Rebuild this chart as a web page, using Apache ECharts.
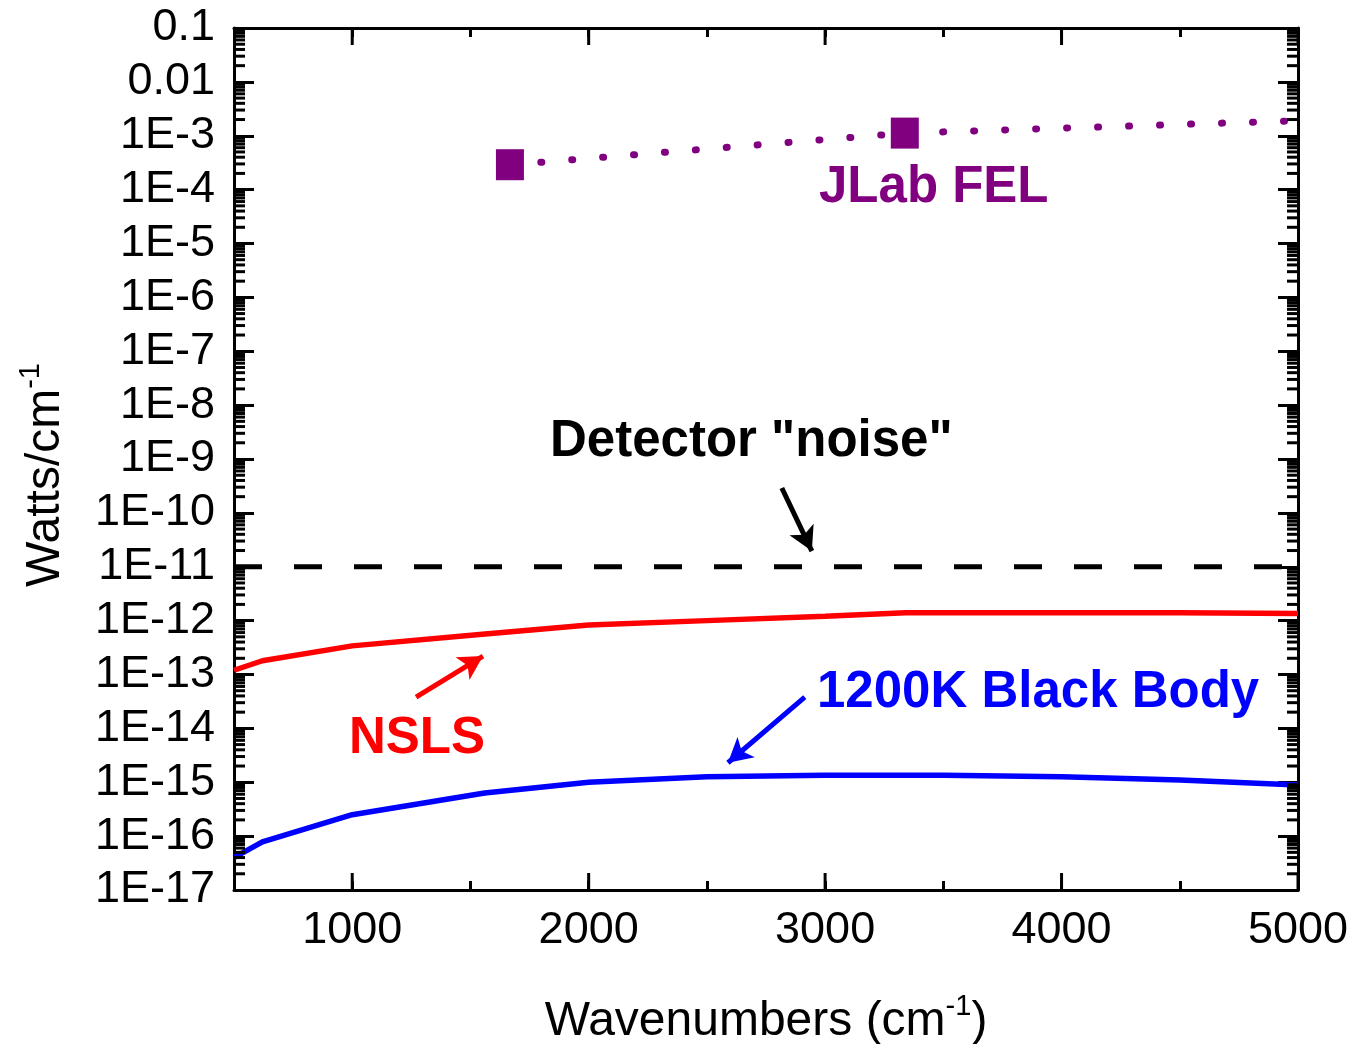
<!DOCTYPE html>
<html>
<head>
<meta charset="utf-8">
<script src="https://cdn.jsdelivr.net/npm/echarts@6/dist/echarts.min.js"></script>
<style>html,body{margin:0;padding:0;background:#fff}#c{width:1354px;height:1044px}</style>
</head>
<body>
<div id="c"></div>
<script>
// ---- data ----
const nslsX = [500, 620, 1000, 1550, 2000, 2500, 3000, 3340, 4000, 4500, 5000];
const nslsY = [1.2e-13, 1.8e-13, 3.4e-13, 5.6e-13, 8.3e-13, 1.0e-12, 1.2e-12, 1.4e-12, 1.4e-12, 1.4e-12, 1.35e-12];
const bbX = [500, 620, 1000, 1560, 2000, 2500, 3000, 3500, 4000, 4500, 5000];
const bbY = [4.0e-17, 7.8e-17, 2.5e-16, 6.3e-16, 1.0e-15, 1.26e-15, 1.35e-15, 1.35e-15, 1.26e-15, 1.1e-15, 8.9e-16];
const felX = [1667, 3337, 5000];
const felY = [2.9e-4, 1.12e-3, 1.9e-3];
const felMarked = [true, true, false];
const noiseX = [500, 5000];
const noiseY = [1e-11, 1e-11];
const yMin = 1e-17, yMax = 0.1;
const xMin = 500, xMax = 5000;
const xMajorTicks = [1000, 2000, 3000, 4000, 5000];
// arrows: [startX, startY, endX, endY]
const arrowNoise = [2817, 2.9e-10, 2944, 1.95e-11];
const arrowNsls = [1270, 3.8e-14, 1553, 2.2e-13];
const arrowBB = [2914, 3.8e-14, 2589, 2.3e-15];

// minor log tick positions (2..9 within each decade)
const yMinorTicks = [];
for (let e = -17; e < -1; e++) for (let m = 2; m <= 9; m++) yMinorTicks.push(m * Math.pow(10, e));

const FONT = 'Liberation Sans, Arial, sans-serif';
const zip = (a, b) => a.map((v, i) => [v, b[i]]);

function yLabel(v) {
  const e = Math.round(Math.log10(v));
  if (e >= -2) return v.toFixed(-e);
  return '1E' + e;
}

function arrow(a, color) {
  return {
    silent: true,
    symbol: ['none', 'arrow'],
    symbolSize: [20, 24],
    label: { show: false },
    lineStyle: { color: color, width: 5, type: 'solid' },
    data: [[{ coord: [a[0], a[1]] }, { coord: [a[2], a[3]] }]],
    animation: false
  };
}

const axisCommonX = {
  type: 'value', min: xMin, max: xMax, interval: 500,
  axisLine: { show: true, lineStyle: { color: '#000', width: 3 } },
  axisTick: { show: true, inside: true, length: 9, lineStyle: { color: '#000', width: 3 } },
  splitLine: { show: false }
};
const axisCommonY = {
  type: 'log', logBase: 10, min: yMin, max: yMax, interval: 1,
  axisLine: { show: true, lineStyle: { color: '#000', width: 3 } },
  axisTick: { show: true, inside: true, length: 20, lineStyle: { color: '#000', width: 3 } },
  splitLine: { show: false }
};

const chart = echarts.init(document.getElementById('c'), null, { renderer: 'canvas' });
chart.setOption({
  animation: false,
  backgroundColor: '#fff',
  grid: { left: 234, right: 56, top: 28, bottom: 154, containLabel: false, outerBoundsMode: 'none' },
  xAxis: [
    Object.assign({}, axisCommonX, {
      position: 'bottom',
      axisLabel: {
        show: true, margin: 18, fontFamily: FONT, fontSize: 45, color: '#000',
        formatter: v => (v % 1000 === 0 ? String(v) : '')
      },
      name: '{a|Wavenumbers (cm}{s|-1}{a|)}',
      nameLocation: 'middle', nameGap: 102,
      nameTextStyle: {
        rich: {
          a: { fontFamily: FONT, fontSize: 48, color: '#000', lineHeight: 54, verticalAlign: 'bottom' },
          s: { fontFamily: FONT, fontSize: 29, color: '#000', lineHeight: 54, verticalAlign: 'top' }
        }
      }
    }),
    Object.assign({}, axisCommonX, { position: 'top', axisLabel: { show: false } })
  ],
  yAxis: [
    Object.assign({}, axisCommonY, {
      position: 'left',
      axisLabel: {
        show: true, margin: 19, fontFamily: FONT, fontSize: 45, color: '#000',
        showMinLabel: true, showMaxLabel: true, formatter: yLabel
      },
      name: '{a|Watts/cm}{s|-1}',
      nameLocation: 'middle', nameGap: 164, nameRotate: 90,
      nameTextStyle: {
        padding: [0, 32, 0, 0],
        rich: {
          a: { fontFamily: FONT, fontSize: 48, color: '#000', lineHeight: 54, verticalAlign: 'bottom' },
          s: { fontFamily: FONT, fontSize: 29, color: '#000', lineHeight: 54, verticalAlign: 'top' }
        }
      }
    }),
    Object.assign({}, axisCommonY, { position: 'right', axisLabel: { show: false } })
  ],
  series: [
    {
      name: 'Detector noise', type: 'line', data: zip(noiseX, noiseY), symbol: 'none',
      lineStyle: { color: '#000', width: 5, type: [28, 32], cap: 'butt' },
      markLine: arrow(arrowNoise, '#000'), z: 3
    },
    {
      name: 'NSLS', type: 'line', data: zip(nslsX, nslsY), symbol: 'none',
      lineStyle: { color: '#ff0000', width: 5.5 },
      markLine: arrow(arrowNsls, '#ff0000'), z: 3
    },
    {
      name: '1200K Black Body', type: 'line', data: zip(bbX, bbY), symbol: 'none',
      lineStyle: { color: '#0000ff', width: 5.5 },
      markLine: arrow(arrowBB, '#0000ff'), z: 3
    },
    {
      name: 'JLab FEL', type: 'line',
      data: felX.map((x, i) => ({ value: [x, felY[i]], symbol: felMarked[i] ? 'rect' : 'none' })),
      symbolSize: [28, 31], showAllSymbol: true,
      itemStyle: { color: '#800080' },
      lineStyle: { color: '#800080', width: 7, type: [1, 30], cap: 'round' }, z: 4
    },
    {
      name: 'yMinorTicks', type: 'custom', silent: true, z: 10,
      data: yMinorTicks.map(v => [xMin, v]),
      encode: { x: 0, y: 1 },
      renderItem: function (params, api) {
        const p = api.coord([xMin, api.value(1)]);
        const cs = params.coordSys;
        const st = { stroke: '#000', lineWidth: 3 };
        return {
          type: 'group', children: [
            { type: 'line', shape: { x1: cs.x, y1: p[1], x2: cs.x + 11, y2: p[1] }, style: st },
            { type: 'line', shape: { x1: cs.x + cs.width, y1: p[1], x2: cs.x + cs.width - 11, y2: p[1] }, style: st }
          ]
        };
      }
    },
    {
      name: 'xMajorTicks', type: 'custom', silent: true, z: 10,
      data: xMajorTicks.map(v => [v, yMin]),
      encode: { x: 0, y: 1 },
      renderItem: function (params, api) {
        const p = api.coord([api.value(0), yMin]);
        const cs = params.coordSys;
        const st = { stroke: '#000', lineWidth: 3 };
        return {
          type: 'group', children: [
            { type: 'line', shape: { x1: p[0], y1: cs.y + cs.height, x2: p[0], y2: cs.y + cs.height - 17 }, style: st },
            { type: 'line', shape: { x1: p[0], y1: cs.y, x2: p[0], y2: cs.y + 17 }, style: st }
          ]
        };
      }
    }
  ],
  graphic: [
    { type: 'text', silent: true, style: { text: 'JLab FEL', x: 819, y: 188, fill: '#800080', font: 'bold 51px ' + FONT, verticalAlign: 'middle', align: 'left' } },
    { type: 'text', silent: true, style: { text: 'Detector "noise"', x: 550, y: 442, fill: '#000', font: 'bold 51px ' + FONT, verticalAlign: 'middle', align: 'left' } },
    { type: 'text', silent: true, style: { text: '1200K Black Body', x: 817, y: 693, fill: '#0000ff', font: 'bold 51px ' + FONT, verticalAlign: 'middle', align: 'left' } },
    { type: 'text', silent: true, style: { text: 'NSLS', x: 349, y: 739, fill: '#ff0000', font: 'bold 51px ' + FONT, verticalAlign: 'middle', align: 'left' } }
  ]
});
</script>
</body>
</html>
